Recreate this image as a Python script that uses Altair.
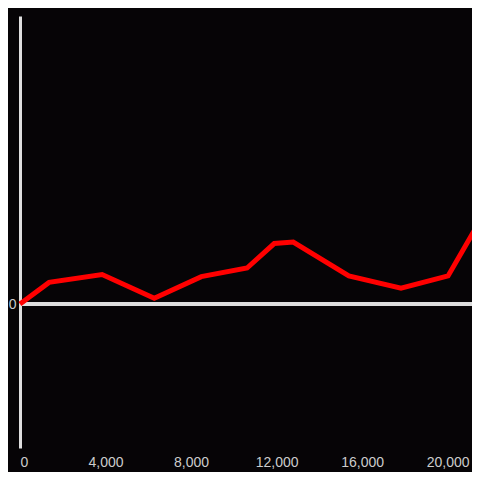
import altair as alt
import pandas as pd

x_vals = [0, 1360, 3840, 6280, 8480, 10620, 11890, 12780, 15380, 17820, 20020, 21520]
y_vals = [0, 15, 20.5, 4, 19, 25, 42, 43, 19.5, 11, 19.5, 58]
x_ticks = [0, 4000, 8000, 12000, 16000, 20000]
y_ticks = [0]

df = pd.DataFrame({"x": x_vals, "y": y_vals})

axis_color = "#dedede"
label_color = "#cccccc"

xs = alt.Scale(domain=[0, 21140], nice=False, zero=False)
ys = alt.Scale(domain=[-100, 200], nice=False)

rule = alt.Chart(df).mark_rule(color=axis_color, strokeWidth=3).encode(
    y=alt.datum(0, scale=ys)
)

line = alt.Chart(df).mark_line(color="#ff0000", strokeWidth=5, strokeJoin="miter", clip=False).encode(
    x=alt.X("x:Q", scale=xs,
            axis=alt.Axis(values=x_ticks, format=",d", title=None, domain=False,
                          ticks=False, grid=False, labelColor=label_color,
                          labelFontSize=14, labelPadding=7, labelFont="Liberation Sans")),
    y=alt.Y("y:Q", scale=ys,
            axis=alt.Axis(values=y_ticks, title=None, domain=True, domainColor=axis_color,
                          domainWidth=3, ticks=False, grid=False, labelColor=label_color,
                          labelFontSize=14, labelPadding=4, labelFont="Liberation Sans")),
)

chart = alt.layer(rule, line).properties(
    width=452, height=432,
    background="#060406",
    autosize=alt.AutoSizeParams(type="none"),
    padding={"left": 12, "top": 8, "right": 0, "bottom": 24},
).configure_view(stroke=None)

chart.save("out.html", embed_options={"renderer": "svg", "actions": False})
